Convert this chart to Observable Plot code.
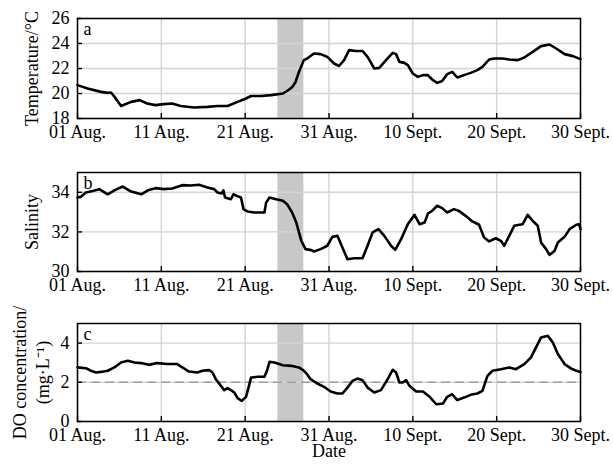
<!DOCTYPE html>
<html><head><meta charset="utf-8">
<script src="https://cdn.jsdelivr.net/npm/d3@7"></script>
<script src="https://cdn.jsdelivr.net/npm/@observablehq/plot@0.6"></script>
<style>body{margin:0;background:#fff;} #chart svg{display:block;} #chart svg text{font-family:'Liberation Serif','Times New Roman',serif;}</style>
</head><body><div id="chart"></div>
<script>
// x: days since 01 Aug
const tickDays = [0, 10, 20, 30, 40, 50, 60];
const tickLabels = ["01 Aug.", "11 Aug.", "21 Aug.", "31 Aug.", "10 Sept.", "20 Sept.", "30 Sept."];
const shadeDays = [23.9, 27.0];

const tempDay = [0,1.2,2.8,3.6,4.0,4.4,5.2,6.4,7.4,8.3,9.3,10.3,11.3,12.3,13.9,15.5,16.7,17.9,19.1,20.1,20.7,21.9,23.1,24.5,25.0,25.6,26.0,26.4,27.0,27.4,28.2,29.0,29.8,30.6,31.2,31.8,32.4,33.2,34.0,34.6,35.4,36.0,36.8,37.6,38.0,38.4,39.0,39.4,40.0,40.6,41.2,41.8,42.3,42.9,43.5,44.1,44.7,45.3,46.1,46.9,47.7,48.3,49.1,49.7,50.7,51.5,52.5,53.3,54.3,55.3,56.3,57.1,58.1,59.1,60.0];
const tempVal = [20.67,20.4,20.13,20.05,20.08,19.75,19.0,19.33,19.47,19.2,19.07,19.15,19.2,19.0,18.88,18.93,19.0,19.0,19.33,19.6,19.8,19.8,19.87,20.0,20.2,20.5,20.9,21.7,22.67,22.8,23.2,23.15,22.93,22.4,22.2,22.67,23.47,23.4,23.4,22.93,22.0,22.05,22.67,23.25,23.15,22.53,22.45,22.27,21.6,21.33,21.47,21.47,21.12,20.85,21.0,21.55,21.73,21.28,21.47,21.65,21.87,22.13,22.72,22.8,22.8,22.72,22.67,22.88,23.33,23.79,23.92,23.6,23.15,22.99,22.75];

const salDay = [0,0.4,1.0,1.8,2.6,3.6,4.4,5.4,6.4,7.6,8.5,9.3,10.3,11.3,12.5,13.5,14.5,15.5,16.3,16.7,17.2,17.4,17.6,18.3,18.6,19.0,19.5,19.8,20.3,21.1,22.3,22.5,22.9,23.7,24.5,25.0,25.6,26.1,26.7,27.2,27.9,28.2,29.0,29.8,30.4,31.0,31.6,32.2,33.0,34.0,34.6,35.2,35.9,36.6,37.4,37.9,38.6,39.4,40.2,40.8,41.4,41.8,42.3,42.9,43.5,44.1,44.9,45.5,46.3,47.1,47.9,48.5,49.1,49.9,50.5,50.9,51.5,52.1,52.7,53.1,53.7,54.3,54.9,55.3,55.9,56.3,56.9,57.3,58.1,58.7,59.5,59.85,60.0];
const salVal = [33.74,33.77,33.99,34.07,34.16,33.9,34.1,34.29,34.04,33.9,34.12,34.21,34.16,34.19,34.36,34.34,34.38,34.24,34.16,33.99,33.94,34.1,33.74,33.65,33.9,33.82,33.74,33.15,33.03,32.98,32.98,33.48,33.74,33.65,33.57,33.4,32.98,32.47,31.55,31.13,31.08,31.01,31.13,31.3,31.75,31.8,31.21,30.62,30.67,30.67,31.3,31.97,32.14,31.8,31.3,31.09,31.63,32.39,32.86,32.39,32.47,32.93,33.06,33.32,33.2,32.98,33.15,33.06,32.81,32.53,32.36,31.72,31.52,31.68,31.55,31.3,31.8,32.31,32.36,32.39,32.86,32.56,32.31,31.46,31.13,30.84,31.04,31.46,31.75,32.14,32.36,32.39,32.14];

const doDay = [0,1.0,1.6,2.2,2.8,3.6,4.4,5.2,6.0,6.8,7.6,8.5,9.5,10.7,11.9,12.5,13.3,14.3,14.9,15.7,16.1,16.5,17.1,17.5,17.9,18.3,18.7,19.1,19.6,20.1,20.4,20.7,21.5,22.3,22.6,22.9,23.5,24.5,25.5,26.4,27.0,27.4,27.8,28.6,29.4,30.2,31.0,31.6,32.2,32.8,33.4,34.0,34.6,35.4,36.2,37.0,37.6,38.0,38.4,38.8,39.2,39.6,40.4,41.2,42.0,42.8,43.6,44.1,44.7,45.3,46.1,46.9,47.7,48.3,48.9,49.5,50.5,51.5,52.3,53.3,54.1,54.7,55.3,56.1,56.7,57.3,58.1,58.9,59.5,60.0];
const doVal = [2.76,2.72,2.59,2.5,2.53,2.59,2.76,3.01,3.1,3.01,2.98,2.89,2.98,2.93,2.93,2.76,2.55,2.5,2.59,2.62,2.5,2.16,1.82,1.6,1.7,1.6,1.48,1.19,1.05,1.26,1.73,2.24,2.28,2.28,2.59,3.04,3.01,2.87,2.84,2.76,2.6,2.4,2.16,1.94,1.77,1.53,1.43,1.43,1.73,2.07,2.19,2.11,1.73,1.48,1.6,2.16,2.64,2.5,1.99,1.99,2.11,1.82,1.53,1.53,1.26,0.88,0.92,1.26,1.39,1.09,1.22,1.36,1.43,1.56,2.33,2.59,2.67,2.76,2.67,2.93,3.27,3.78,4.29,4.37,4.03,3.44,2.93,2.7,2.59,2.53];
const doThreshold = [2];

const base = Date.UTC(2020, 7, 1);
const toDate = d => new Date(base + d * 864e5);
const tickDates = tickDays.map(toDate);
const labelOf = new Map(tickDays.map((d, i) => [+toDate(d), tickLabels[i]]));

const W = 613, ML = 77, MR = 33;
const FONT = "'Liberation Serif', 'Times New Roman', serif";

function panel({days, vals, yDomain, yTicks, yLabel, letter, height, mt, mb, hline, xTitle}) {
  const data = days.map((d, i) => ({date: toDate(d), v: vals[i]}));
  const ph = height - mt - mb, pw = W - ML - MR;
  const marks = [
    Plot.rect([shadeDays], {x1: d => toDate(d[0]), x2: d => toDate(d[1]), y1: yDomain[0], y2: yDomain[1], fill: "#c8c8c8"}),
    Plot.gridX(tickDates, {stroke: "#d4d4d4", strokeOpacity: 1, strokeWidth: 1.4}),
    Plot.gridY(yTicks, {stroke: "#d4d4d4", strokeOpacity: 1, strokeWidth: 1.4}),
  ];
  if (hline) marks.push(Plot.ruleY(hline, {stroke: "#a0a0a0", strokeWidth: 1.4, strokeDasharray: "9,5"}));
  marks.push(
    Plot.line(data, {x: "date", y: "v", stroke: "black", strokeWidth: 2.6}),
    Plot.ruleX(tickDates, {stroke: "black", strokeWidth: 1.4, insetTop: ph - 5}),
    Plot.ruleY(yTicks, {stroke: "black", strokeWidth: 1.4, insetRight: pw - 5}),
    Plot.frame({stroke: "black", strokeWidth: 1.5}),
    Plot.axisX(tickDates, {tickFormat: d => labelOf.get(+d), tickSize: 0, tickPadding: 7, label: null, fontFamily: FONT}),
    Plot.axisY(yTicks, {tickSize: 0, tickPadding: 8, label: null, fontFamily: FONT}),
    Plot.text([yLabel], {frameAnchor: "left", rotate: -90, dx: -47, textAnchor: "middle", lineAnchor: "middle", lineHeight: 1.28, fontFamily: FONT}),
    Plot.text([letter], {frameAnchor: "top-left", dx: 6, dy: 4, textAnchor: "start", lineAnchor: "top", fontFamily: FONT})
  );
  if (xTitle) marks.push(Plot.text([xTitle], {frameAnchor: "bottom", dy: 30, lineAnchor: "middle", fontFamily: FONT}));
  return Plot.plot({
    width: W, height, marginLeft: ML, marginRight: MR, marginTop: mt, marginBottom: mb,
    style: {fontFamily: FONT, fontSize: "18px", color: "black", background: "white", overflow: "visible"},
    x: {type: "utc", domain: [toDate(tickDays[0]), toDate(tickDays[tickDays.length - 1])]},
    y: {domain: yDomain},
    marks
  });
}

const chart = document.getElementById("chart");
chart.append(panel({days: tempDay, vals: tempVal, yDomain: [18, 26], yTicks: [18, 20, 22, 24, 26], yLabel: "Temperature/°C", letter: "a", height: 150, mt: 18, mb: 32}));
chart.append(panel({days: salDay, vals: salVal, yDomain: [30, 35], yTicks: [30, 32, 34], yLabel: "Salinity", letter: "b", height: 150, mt: 22, mb: 29}));
chart.append(panel({days: doDay, vals: doVal, yDomain: [0, 5], yTicks: [0, 2, 4], yLabel: "DO concentration/\n(mg·L⁻¹)", letter: "c", height: 166, mt: 23, mb: 45, hline: doThreshold, xTitle: "Date"}));
</script>
</body></html>
